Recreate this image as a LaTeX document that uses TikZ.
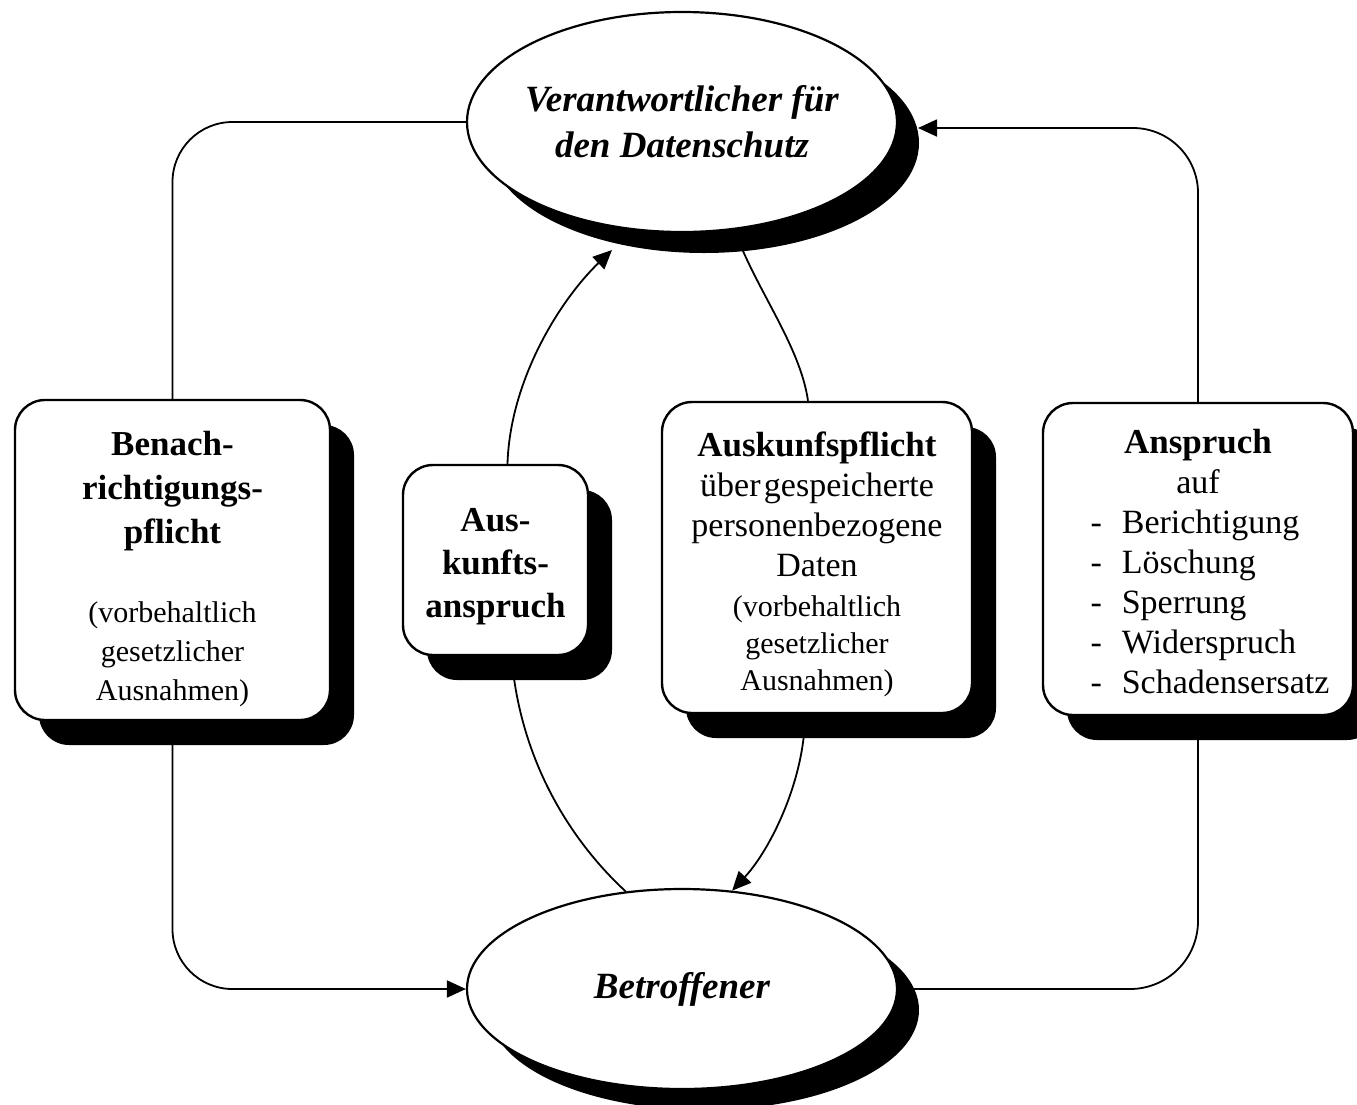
\documentclass[tikz,border=0pt]{standalone}
\usepackage{fontspec}
\setmainfont{Liberation Serif}
\usetikzlibrary{shadows,arrows.meta,calc,shapes.geometric}
\begin{document}
\begin{tikzpicture}[x=1pt,y=-1pt,
  conn/.style={line width=1.8pt},
  arr/.style={conn,-{Triangle[length=19pt,width=17pt]}},
  oval/.style={ellipse, draw, line width=2.2pt, fill=white, inner ysep=0pt, inner xsep=-14pt,
    drop shadow={shadow xshift=22pt,shadow yshift=-21pt,fill=black,opacity=1},
    font=\fontsize{37}{46}\selectfont\bfseries\itshape, align=center},
  rbox/.style={draw, line width=2.4pt, fill=white, rounded corners=30pt, inner sep=0pt, align=center,
    drop shadow={shadow xshift=24pt,shadow yshift=-25pt,fill=black,opacity=1}},
]
\useasboundingbox (0,0) rectangle (1357,1104);
\clip (0,0) rectangle (1357,1104);
\fill[white] (0,0) rectangle (1357,1104);

% ellipses
\node[oval, minimum width=430pt, minimum height=220pt] (top) at (682,122)
  {Verantwortlicher für\\den Datenschutz};
\node[oval, minimum width=430pt, minimum height=200pt] (bot) at (682,989) {Betroffener};

% boxes
\node[rbox, minimum width=315pt, minimum height=320pt, text width=300pt] (lbox) at (172.5,560)
  {\fontsize{35}{44}\selectfont\bfseries Benach-\\richtigungs-\\pflicht\par
   \vspace{40pt}\fontsize{30}{39}\selectfont\mdseries (vorbehaltlich\\gesetzlicher\\Ausnahmen)\par
   \kern-18pt};
\node[rbox, minimum width=185pt, minimum height=190pt, text width=180pt] (aus) at (495.5,560)
  {\fontsize{35}{43}\selectfont\bfseries Aus-\\kunfts-\\anspruch\par\kern-14pt};
\node[rbox, minimum width=310pt, minimum height=311pt, text width=305pt] (pbox) at (817,557.5)
  {\fontsize{35}{42}\selectfont\bfseries Auskunfspflicht\par
   \fontsize{34}{40}\selectfont\mdseries über gespeicherte\\personenbezogene\\Daten\par
   \vspace{3pt}\fontsize{30}{37}\selectfont (vorbehaltlich\\gesetzlicher\\Ausnahmen)\par
   \kern-14pt};
\node[rbox, minimum width=310pt, minimum height=312pt, text width=305pt] (abox) at (1198,559)
  {\fontsize{35}{41}\selectfont\bfseries Anspruch\par
   \fontsize{34}{40}\selectfont\mdseries auf\par
   \hspace*{24pt}\begin{tabular}[t]{@{}l@{\hspace{20pt}}l@{}}
   -&Berichtigung\\ -&Löschung\\ -&Sperrung\\ -&Widerspruch\\ -&Schadensersatz
   \end{tabular}\par\kern-16pt};

% outer loops
\coordinate (tr) at (918,128);
\draw[conn, rounded corners=60pt] (top.west) -| (lbox.north);
\draw[arr, rounded corners=60pt] (lbox.south) |- (bot.west);
\draw[conn, rounded corners=68pt] (bot.east) -| (abox.south);
\draw[arr, rounded corners=65pt] (abox.north) |- (tr);

% inner curves
\coordinate (tl) at (612,250);
\draw[arr] ([xshift=12pt]aus.north) .. controls (510,380) and (560,300) .. (tl);
\draw[conn] ([xshift=16pt]aus.south) .. controls (520,760) and (570,840) .. (bot.120);
\draw[conn] (top.-64) .. controls (755,288) and (800,345) .. ([xshift=-9pt]pbox.north);
\draw[arr] ([xshift=-12pt]pbox.south) .. controls (805,780) and (770,850) .. (bot.63);
\end{tikzpicture}
\end{document}
